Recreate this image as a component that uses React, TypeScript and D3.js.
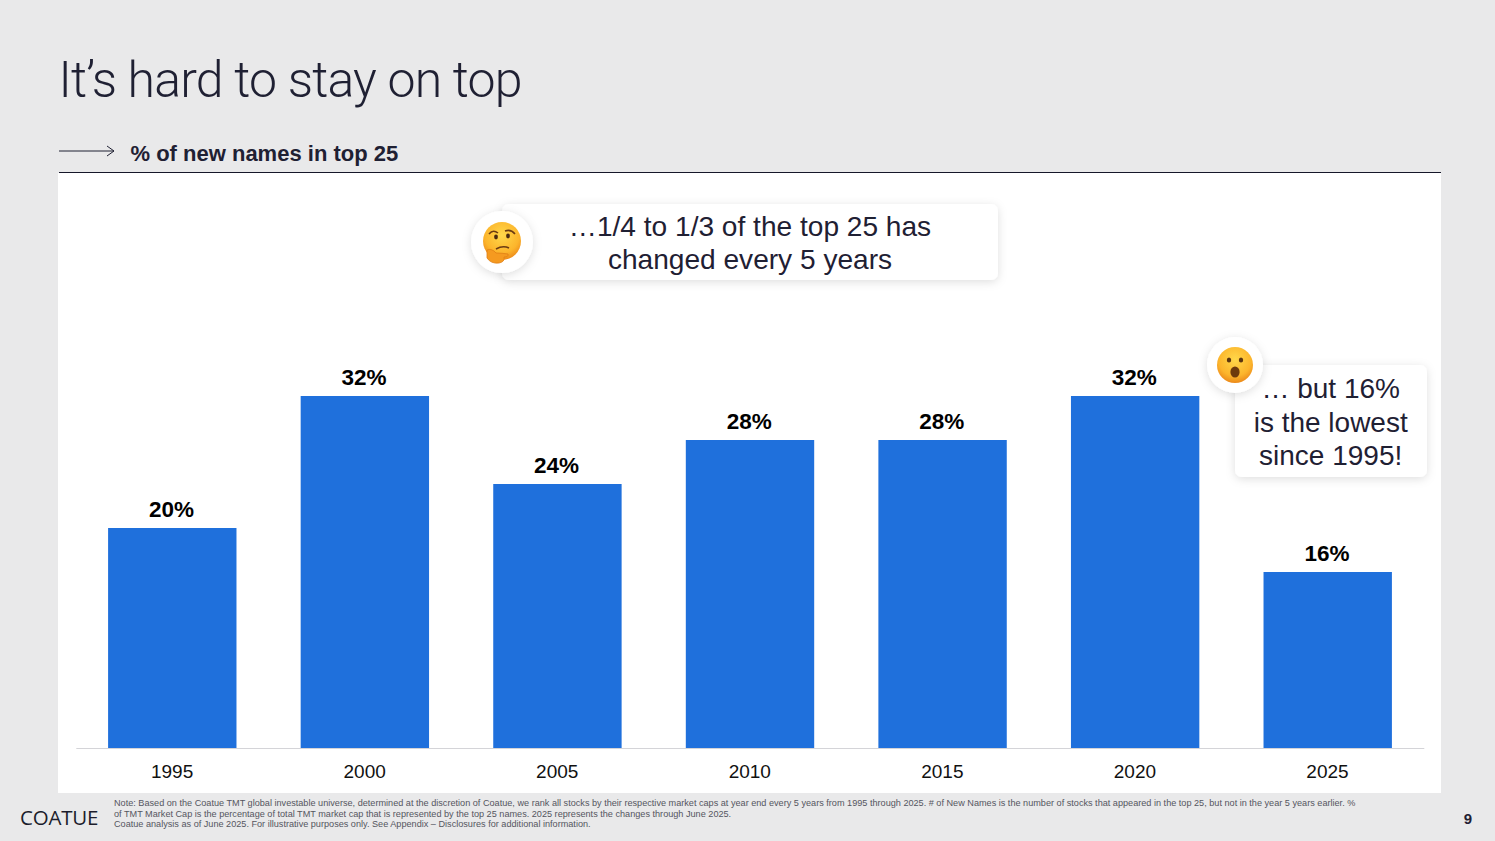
import React, { useEffect, useRef } from "react";
import * as d3 from "d3";

const years = ["1995", "2000", "2005", "2010", "2015", "2020", "2025"];
const newNamesPct = [20, 32, 24, 28, 28, 32, 16];
const calloutTop = ["…1/4 to 1/3 of the top 25 has", "changed every 5 years"];
const calloutSide = ["… but 16%", "is the lowest", "since 1995!"];
const footnotes = [
  "Note: Based on the Coatue TMT global investable universe, determined at the discretion of Coatue, we rank all stocks by their respective market caps at year end every 5 years from 1995 through 2025. # of New Names is the number of stocks that appeared in the top 25, but not in the year 5 years earlier. %",
  "of TMT Market Cap is the percentage of total TMT market cap that is represented by the top 25 names. 2025 represents the changes through June 2025.",
  "Coatue analysis as of June 2025.  For illustrative purposes only. See Appendix – Disclosures for additional information.",
];

const W = 1495;
const H = 841;
const INK = "#1f2033";
const BLUE = "#1f70dc";
const SANS = "'Liberation Sans', Arial, sans-serif";

const App: React.FC = () => {
  const svgRef = useRef<SVGSVGElement | null>(null);

  useEffect(() => {
    const svg = d3.select(svgRef.current);
    svg.selectAll("*").remove();
    svg.attr("width", W).attr("height", H);

    const defs = svg.append("defs");
    const shadow = defs.append("filter").attr("id", "soft").attr("x", "-20%").attr("y", "-30%").attr("width", "140%").attr("height", "170%");
    shadow.append("feDropShadow").attr("dx", 0).attr("dy", 2).attr("stdDeviation", 5).attr("flood-color", "#000").attr("flood-opacity", 0.13);

    const faceGrad = defs.append("radialGradient").attr("id", "face").attr("cx", "50%").attr("cy", "35%").attr("r", "65%");
    faceGrad.append("stop").attr("offset", "0%").attr("stop-color", "#ffd84a");
    faceGrad.append("stop").attr("offset", "70%").attr("stop-color", "#fcb52c");
    faceGrad.append("stop").attr("offset", "100%").attr("stop-color", "#ec8a1a");

    svg.append("rect").attr("width", W).attr("height", H).attr("fill", "#e9e9ea");
    svg.append("rect").attr("x", 58).attr("y", 173).attr("width", 1383).attr("height", 620).attr("fill", "#fff");

    // header
    svg.append("text").attr("x", 58.5).attr("y", 97).attr("font-family", "Roboto, sans-serif").attr("font-weight", 300)
      .attr("font-size", 50).attr("letter-spacing", -0.8).attr("fill", INK).text("It’s hard to stay on top");
    svg.append("path").attr("d", "M59 151H114M107 146L114 151L107 156").attr("fill", "none").attr("stroke", INK).attr("stroke-width", 1);
    svg.append("text").attr("x", 130.5).attr("y", 161).attr("font-family", SANS).attr("font-weight", 700)
      .attr("font-size", 22).attr("fill", INK).text("% of new names in top 25");
    svg.append("line").attr("x1", 59).attr("x2", 1441).attr("y1", 172.5).attr("y2", 172.5).attr("stroke", "#16172a").attr("stroke-width", 1.2);

    // chart
    const x = d3.scaleBand<string>().domain(years).range([76, 1424]).paddingInner(1 / 3).paddingOuter(1 / 6);
    const y = d3.scaleLinear().domain([0, 32]).range([748, 396]);

    svg.append("g").selectAll("rect").data(years).enter().append("rect")
      .attr("x", (d) => x(d)!)
      .attr("y", (_, i) => y(newNamesPct[i]))
      .attr("width", x.bandwidth())
      .attr("height", (_, i) => y(0) - y(newNamesPct[i]))
      .attr("fill", BLUE);

    svg.append("g").selectAll("text").data(years).enter().append("text")
      .attr("x", (d) => x(d)! + x.bandwidth() / 2 - 0.8)
      .attr("y", (_, i) => y(newNamesPct[i]) - 11.2)
      .attr("text-anchor", "middle").attr("font-family", SANS).attr("font-weight", 700).attr("font-size", 22.5).attr("fill", "#000")
      .text((_, i) => `${newNamesPct[i]}%`);

    const axis = svg.append("g").attr("transform", `translate(-0.2,${y(0)})`).call(d3.axisBottom(x).tickSize(0).tickPadding(17));
    axis.select(".domain").attr("stroke", "#d4d4d8").attr("stroke-width", 1);
    axis.selectAll(".tick text").attr("font-family", SANS).attr("font-size", 19).attr("fill", "#111");

    // callouts
    const bubble = (bx: number, by: number, bw: number, bh: number) =>
      svg.append("rect").attr("x", bx).attr("y", by).attr("width", bw).attr("height", bh).attr("rx", 7).attr("fill", "#fff").attr("filter", "url(#soft)");
    const lines = (arr: string[], cx: number, startY: number, gap: number, size: number) =>
      svg.append("g").selectAll("text").data(arr).enter().append("text")
        .attr("x", cx).attr("y", (_, i) => startY + i * gap).attr("text-anchor", "middle")
        .attr("font-family", SANS).attr("font-size", size).attr("fill", INK).text((d) => d);

    bubble(502, 204, 496, 76);
    lines(calloutTop, 750, 236, 33, 28.1);
    bubble(1235, 365, 192, 112);
    lines(calloutSide, 1330.7, 398, 33.5, 28);

    // emoji discs, no emoji font here so they are small drawings
    const disc = (cx: number, cy: number, r: number) =>
      svg.append("circle").attr("cx", cx).attr("cy", cy).attr("r", r).attr("fill", "#fff").attr("filter", "url(#soft)");

    disc(502, 242, 31);
    const think = svg.append("g").attr("transform", "translate(502,242)");
    think.append("circle").attr("r", 19).attr("cy", -1).attr("fill", "url(#face)");
    think.append("path").attr("d", "M-13 -8Q-9 -13 -4 -9M3 -11Q9 -13 13 -8").attr("fill", "none").attr("stroke", "#6b3b12").attr("stroke-width", 1.6);
    think.append("ellipse").attr("cx", -6).attr("cy", -5).attr("rx", 1.9).attr("ry", 2.4).attr("fill", "#4a2a10");
    think.append("ellipse").attr("cx", 6).attr("cy", -6).attr("rx", 1.9).attr("ry", 2.4).attr("fill", "#4a2a10");
    think.append("path").attr("d", "M-6 7Q1 3 7 6").attr("fill", "none").attr("stroke", "#6b3b12").attr("stroke-width", 1.6);
    think.append("path").attr("d", "M-15 8Q-10 6 -6 11Q0 11 6 12Q7 15 2 15Q3 20 -3 21Q-11 22 -15 16Z").attr("fill", "#f59a20").attr("stroke", "#e07f14").attr("stroke-width", 0.8);

    disc(1235, 365, 28);
    const wow = svg.append("g").attr("transform", "translate(1235,365)");
    wow.append("circle").attr("r", 18).attr("fill", "url(#face)");
    wow.append("ellipse").attr("cx", -6).attr("cy", -5).attr("rx", 2.2).attr("ry", 2.6).attr("fill", "#5a3410");
    wow.append("ellipse").attr("cx", 6).attr("cy", -5).attr("rx", 2.2).attr("ry", 2.6).attr("fill", "#5a3410");
    wow.append("ellipse").attr("cy", 7).attr("rx", 4.6).attr("ry", 5.6).attr("fill", "#6e3a0c");

    // footer
    svg.append("text").attr("x", 20).attr("y", 825).attr("font-family", "'Open Sans', sans-serif").attr("font-size", 20.5).attr("letter-spacing", -0.2).attr("fill", "#1c1d2c").text("COATUE");
    svg.append("g").selectAll("text").data(footnotes).enter().append("text")
      .attr("x", 114).attr("y", (_, i) => 806.3 + i * 10.4).attr("font-family", SANS).attr("font-size", 9.15).attr("fill", "#55565f").text((d) => d);
    svg.append("text").attr("x", 1472).attr("y", 824).attr("text-anchor", "end").attr("font-family", SANS).attr("font-weight", 700).attr("font-size", 15).attr("fill", INK).text("9");
  }, []);

  return <svg ref={svgRef} style={{ position: "absolute", left: 0, top: 0, display: "block" }} />;
};

export default App;
